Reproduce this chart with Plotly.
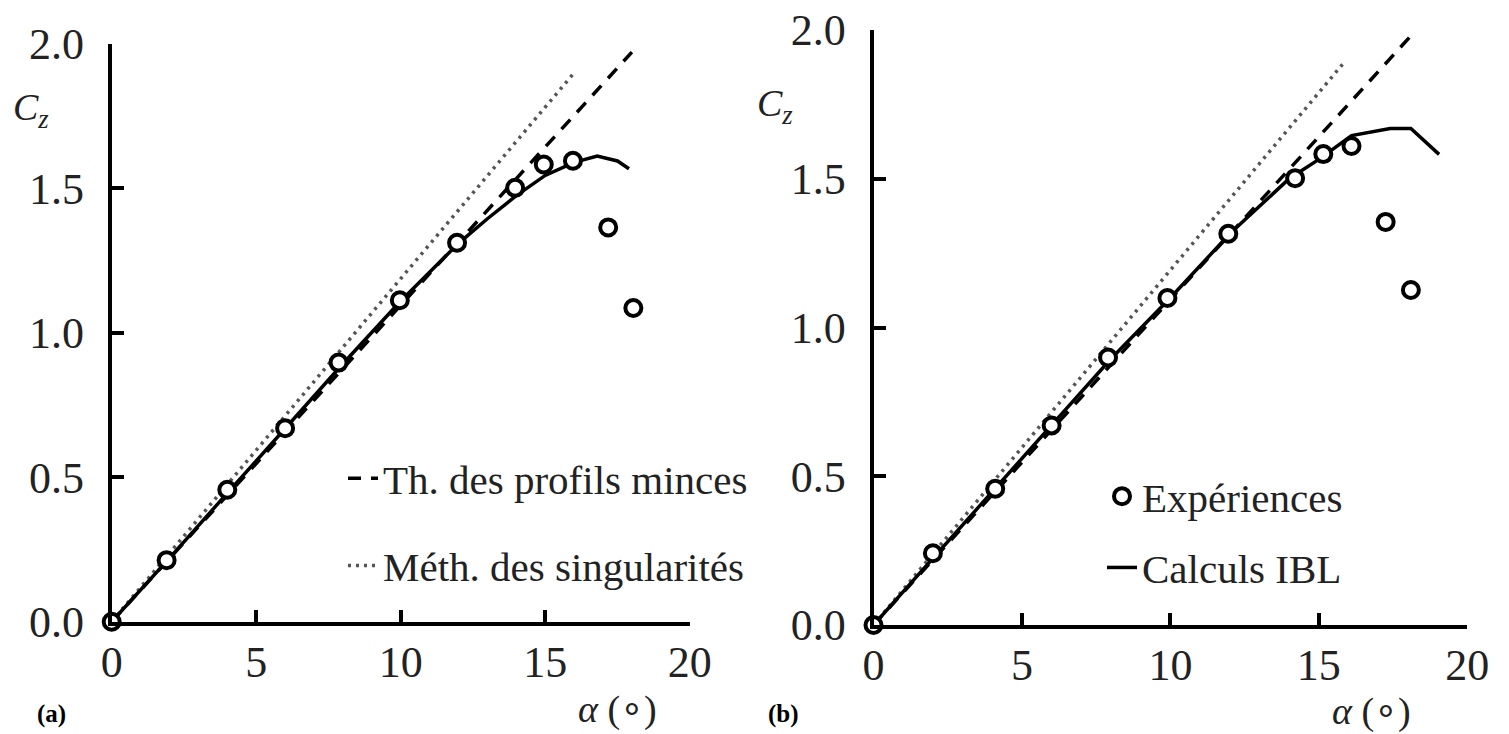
import plotly.graph_objects as go

# ---------------- data ----------------
# Panel (a)
alpha_exp_a = [0, 1.9, 4.0, 6.0, 7.85, 9.97, 11.95, 13.96, 14.95, 15.96, 17.18, 18.05]
cz_exp_a = [0, 0.213, 0.457, 0.670, 0.897, 1.113, 1.312, 1.502, 1.583, 1.596, 1.365, 1.086]
alpha_ibl_a = [0, 2, 4, 6, 8, 10, 12, 13, 14, 15, 16, 16.8, 17.5, 17.9]
cz_ibl_a = [0, 0.22, 0.445, 0.668, 0.893, 1.11, 1.31, 1.395, 1.475, 1.545, 1.59, 1.612, 1.595, 1.568]
alpha_thin_a = [0, 18.0]
cz_thin_a = [0, 1.972]
alpha_sing_a = [0, 16.0]
cz_sing_a = [0, 1.90]

# Panel (b)
alpha_exp_b = [0, 2.0, 4.1, 6.0, 7.9, 9.9, 11.95, 14.2, 15.15, 16.1, 17.25, 18.1]
cz_exp_b = [0, 0.241, 0.458, 0.671, 0.899, 1.099, 1.315, 1.502, 1.583, 1.610, 1.355, 1.126]
alpha_ibl_b = [0, 2, 4, 6, 8, 10, 12, 14, 15, 16.1, 17.4, 18.1, 19.05]
cz_ibl_b = [0, 0.225, 0.45, 0.672, 0.895, 1.10, 1.315, 1.50, 1.565, 1.645, 1.669, 1.669, 1.582]
alpha_thin_b = [0, 18.05]
cz_thin_b = [0, 1.975]
alpha_sing_b = [0, 15.8]
cz_sing_b = [0, 1.885]

x_ticks = [0, 5, 10, 15, 20]
y_ticks = [0.0, 0.5, 1.0, 1.5, 2.0]

label_thin = "Th. des profils minces"
label_sing = "Méth. des singularités"
label_exp = "Expériences"
label_ibl = "Calculs IBL"

# ---------------- styles ----------------
SERIF = "Liberation Serif"
TXT = "#222222"
DASH = "13px,10px"
DOT = "3px,5px"
W, H = 1509, 734

fig = go.Figure()


def add_panel(xa, ya, a_thin, c_thin, a_sing, c_sing, a_ibl, c_ibl, a_exp, c_exp,
              legend_name, show_ab, show_cd):
    fig.add_trace(go.Scatter(
        x=a_sing, y=c_sing, mode="lines", name=label_sing,
        line=dict(color="#555555", width=3.5, dash=DOT),
        xaxis=xa, yaxis=ya, legend=legend_name, legendgroup="sing" + xa,
        showlegend=show_ab, legendrank=2, cliponaxis=False))
    fig.add_trace(go.Scatter(
        x=a_thin, y=c_thin, mode="lines", name=label_thin,
        line=dict(color="black", width=3.5, dash=DASH),
        xaxis=xa, yaxis=ya, legend=legend_name, legendgroup="thin" + xa,
        showlegend=show_ab, legendrank=1, cliponaxis=False))
    fig.add_trace(go.Scatter(
        x=a_ibl, y=c_ibl, mode="lines", name=label_ibl,
        line=dict(color="black", width=3.5),
        xaxis=xa, yaxis=ya, legend=legend_name, legendgroup="ibl" + xa,
        showlegend=show_cd, legendrank=2, cliponaxis=False))
    fig.add_trace(go.Scatter(
        x=a_exp, y=c_exp, mode="markers", name=label_exp,
        marker=dict(symbol="circle", size=16, color="white",
                    line=dict(color="black", width=4)),
        xaxis=xa, yaxis=ya, legend=legend_name, legendgroup="exp" + xa,
        showlegend=show_cd, legendrank=1, cliponaxis=False))


add_panel("x", "y", alpha_thin_a, cz_thin_a, alpha_sing_a, cz_sing_a,
          alpha_ibl_a, cz_ibl_a, alpha_exp_a, cz_exp_a, "legend", True, False)
add_panel("x2", "y2", alpha_thin_b, cz_thin_b, alpha_sing_b, cz_sing_b,
          alpha_ibl_b, cz_ibl_b, alpha_exp_b, cz_exp_b, "legend2", False, True)

axis_common = dict(
    showline=True, linecolor="black", linewidth=4,
    ticks="inside", ticklen=12, tickwidth=4, tickcolor="black",
    showgrid=False, zeroline=False, fixedrange=True, automargin=False,
    tickfont=dict(family=SERIF, size=44, color=TXT),
)

fig.update_layout(
    width=W, height=H, autosize=False,
    margin=dict(l=0, r=0, t=0, b=0, pad=0, autoexpand=False),
    paper_bgcolor="white", plot_bgcolor="white",
    showlegend=True,
    xaxis=dict(domain=[111.7 / W, 689.7 / W], anchor="y", range=[0, 20],
               tickvals=x_ticks, ticklabelstandoff=-2, **axis_common),
    yaxis=dict(domain=[1 - 621.7 / H, 1 - 44 / H], anchor="x", range=[0, 2],
               tickvals=y_ticks, tickformat=".1f", ticklabelstandoff=15, **axis_common),
    xaxis2=dict(domain=[873.5 / W, 1467.3 / W], anchor="y2", range=[0, 20],
                tickvals=x_ticks, ticklabelstandoff=-2, **axis_common),
    yaxis2=dict(domain=[1 - 625 / H, 1 - 30 / H], anchor="x2", range=[0, 2],
                tickvals=y_ticks, tickformat=".1f", ticklabelstandoff=15, **axis_common),
    legend=dict(x=343 / W, y=1 - 445 / H, xanchor="left", yanchor="top",
                bgcolor="rgba(0,0,0,0)", tracegroupgap=31,
                font=dict(family=SERIF, size=41, color=TXT),
                traceorder="grouped"),
    legend2=dict(x=1102 / W, y=1 - 463 / H, xanchor="left", yanchor="top",
                 bgcolor="rgba(0,0,0,0)", tracegroupgap=15,
                 font=dict(family=SERIF, size=41, color=TXT),
                 traceorder="grouped"),
)

annots = [
    dict(text="<i>C<sub>z</sub></i>", x=11 / W, y=1 - 110 / H),
    dict(text="<i>C<sub>z</sub></i>", x=755 / W, y=1 - 106 / H),
    dict(text="<i>α</i> (∘)", x=617 / W, y=1 - 709 / H, xanchor="center"),
    dict(text="<i>α</i> (∘)", x=1371 / W, y=1 - 711 / H, xanchor="center"),
]
for a in annots:
    fig.add_annotation(xref="paper", yref="paper", showarrow=False,
                       xanchor=a.get("xanchor", "left"), yanchor="middle",
                       x=a["x"], y=a["y"], text=a["text"],
                       font=dict(family=SERIF, size=38, color=TXT))

for txt, xx in [("<b>(a)</b>", 35), ("<b>(b)</b>", 766)]:
    fig.add_annotation(xref="paper", yref="paper", showarrow=False,
                       xanchor="left", yanchor="middle",
                       x=xx / W, y=1 - 714 / H, text=txt,
                       font=dict(family=SERIF, size=25, color="black"))

fig.write_html("out.html")
